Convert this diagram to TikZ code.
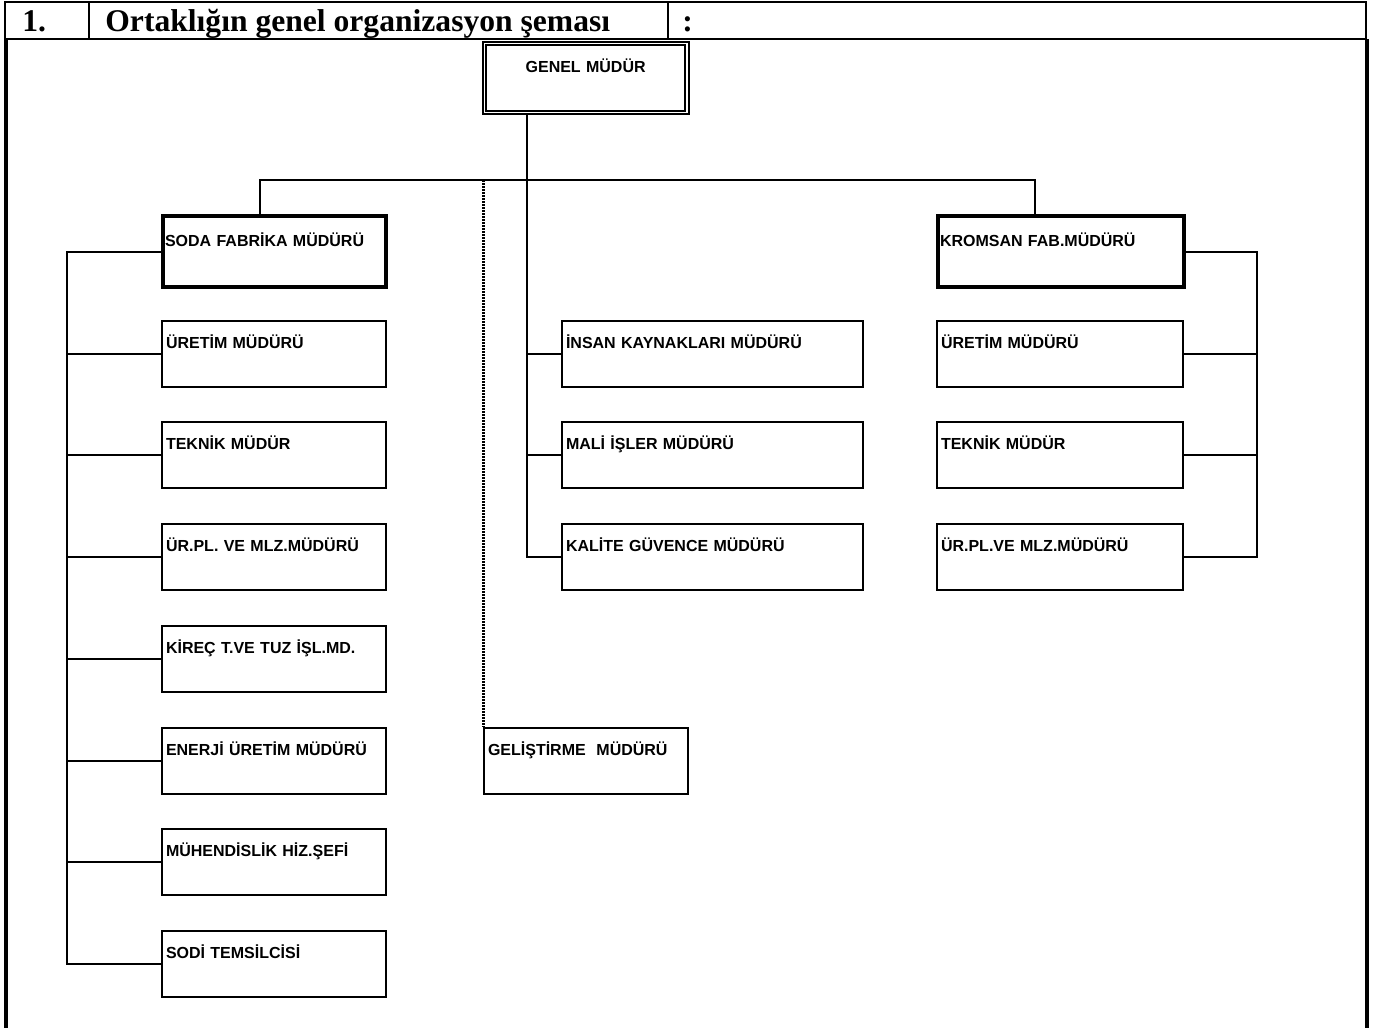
\documentclass[tikz,border=0pt]{standalone}
\usepackage{fontspec}
\setmainfont{Liberation Serif}
\setsansfont{Liberation Sans}

\tikzset{
	unit/.style={draw, line width=1pt, anchor=north west, inner xsep=2pt, inner ysep=0pt, align=left, text height=13.5pt, text depth=19.5pt, font=\sffamily\bfseries\fontsize{8}{9.6}\selectfont},
	fab/.style={unit, line width=2pt, inner xsep=1pt, text height=15pt, text depth=20.5pt},
	head/.style={anchor=base west, inner sep=0pt, font=\rmfamily\bfseries\fontsize{15.8}{18}\selectfont},
	link/.style={line width=1pt},
	dotline/.style={line width=1.5pt, dash pattern=on 1pt off 0.5pt},
}

\begin{document}
\begin{tikzpicture}[x=0.5pt, y=-0.5pt]
		\useasboundingbox (0,0) rectangle (1377,1028);
		%header row
		\draw[line width=1pt] (5,2) rectangle (1366,39);
		\draw[line width=1pt] (89,2) -- (89,39) (668,2) -- (668,39);
		\node[head] (num) at (22,32) {1.};
		\node[head] (title) at (105,32) {Ortaklığın genel organizasyon şeması};
		\node[head] (colon) at (682,32) {:};
		%frame
		\draw[line width=2pt] (6,39) -- (6,1028) (1367,39) -- (1367,1028);
		
		%top
		\node[unit, double, line width=0.9pt, double distance=0.8pt, align=center, text width=97.25pt, text height=14.5pt, text depth=20pt] (genel) at (483.5,42.5) {GENEL MÜDÜR};
		\coordinate (trunk) at (527,180);
		\coordinate (sodatop) at (260,180);
		\coordinate (kromtop) at (1035,180);
		\coordinate (lspine) at (67,250);
		\coordinate (rspine) at (1257,250);
		
		%soda
		\node[fab, text width=109.5pt] (soda) at (161,214) {SODA FABRİKA MÜDÜRÜ};
		\foreach \y/\n/\t in {320/suretim/ÜRETİM MÜDÜRÜ, 421/steknik/TEKNİK MÜDÜR, 523/surpl/ÜR.PL. VE MLZ.MÜDÜRÜ, 625/skirec/KİREÇ T.VE TUZ İŞL.MD., 727/senerji/ENERJİ ÜRETİM MÜDÜRÜ, 828/smuh/MÜHENDİSLİK HİZ.ŞEFİ, 930/sodi/SODİ TEMSİLCİSİ}{
			\node[unit, text width=108pt] (\n) at (161,\y) {\t};
		}
		
		%middle
		\foreach \y/\n/\t in {320/insan/İNSAN KAYNAKLARI MÜDÜRÜ, 421/mali/MALİ İŞLER MÜDÜRÜ, 523/kalite/KALİTE GÜVENCE MÜDÜRÜ}{
			\node[unit, text width=146.5pt] (\n) at (561,\y) {\t};
		}
		\node[unit, text width=98pt] (gelistirme) at (483,727) {GELİŞTİRME~ MÜDÜRÜ};
		
		%kromsan
		\node[fab, text width=121pt] (kromsan) at (936,214) {KROMSAN FAB.MÜDÜRÜ};
		\foreach \y/\n/\t in {320/kuretim/ÜRETİM MÜDÜRÜ, 421/kteknik/TEKNİK MÜDÜR, 523/kurpl/ÜR.PL.VE MLZ.MÜDÜRÜ}{
			\node[unit, text width=119pt] (\n) at (936,\y) {\t};
		}
		
		%connectors
		\draw[link] (trunk |- genel.south) -- (trunk |- kalite.west) -- (kalite.west);
		\draw[link] (sodatop |- soda.north) -- (sodatop) -- (kromtop) -- (kromtop |- kromsan.north);
		\draw[dotline] (gelistirme.north west |- trunk) -- (gelistirme.north west);
		\foreach \n in {insan, mali}{
			\draw[link] (trunk |- \n.west) -- (\n.west);
		}
		\draw[link] (soda.west) -- (soda.west -| lspine) -- (sodi.west -| lspine) -- (sodi.west);
		\foreach \n in {suretim, steknik, surpl, skirec, senerji, smuh}{
			\draw[link] (\n.west -| lspine) -- (\n.west);
		}
		\draw[link] (kromsan.east) -- (kromsan.east -| rspine) -- (kurpl.east -| rspine) -- (kurpl.east);
		\foreach \n in {kuretim, kteknik}{
			\draw[link] (\n.east) -- (\n.east -| rspine);
		}
\end{tikzpicture}
\end{document}
